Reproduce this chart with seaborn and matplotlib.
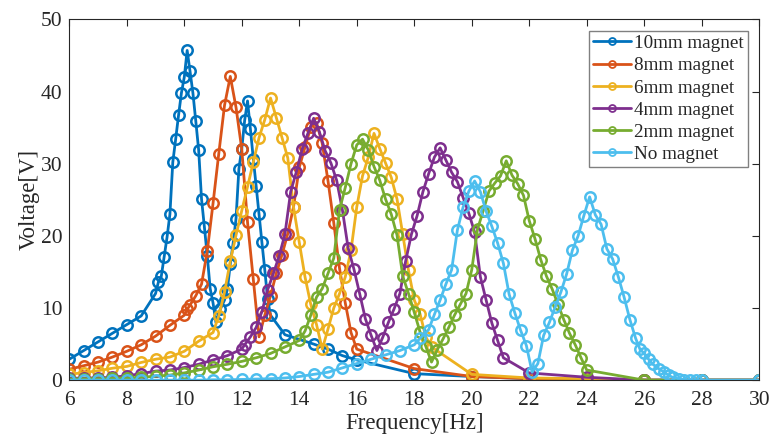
import numpy as np
import pandas as pd
import matplotlib
matplotlib.use("Agg")
import matplotlib.pyplot as plt
import seaborn as sns

# frequency / voltage readings for each magnet size

f_10mm = [6.0, 6.5, 7.0, 7.5, 8.0, 8.5, 9.0, 9.1, 9.2, 9.3, 9.4, 9.5, 9.6, 9.7, 9.8, 9.9,
          10.0, 10.1, 10.2, 10.3, 10.4, 10.5, 10.6, 10.7, 10.8, 10.9, 11.0, 11.1, 11.25, 11.4,
          11.5, 11.6, 11.7, 11.8, 11.9, 12.0, 12.1, 12.2, 12.3, 12.4, 12.5, 12.6, 12.7, 12.8,
          12.9, 13.0, 13.5, 14.5, 15.0, 15.5, 16.0, 18.0, 20.0, 22.0, 24.0, 26.0, 28.0, 30.0]
v_10mm = [2.9, 4.1, 5.3, 6.5, 7.7, 8.9, 12.0, 13.6, 14.4, 17.1, 19.8, 23.0, 30.2, 33.4, 36.7, 39.8,
          42.0, 45.7, 42.8, 39.8, 35.9, 31.9, 25.1, 21.2, 17.2, 12.7, 10.7, 8.0, 9.8, 11.1,
          12.6, 16.1, 19.0, 22.4, 29.3, 32.1, 36.0, 38.7, 34.8, 30.7, 26.9, 23.0, 19.1, 15.3,
          11.2, 9.0, 6.3, 5.0, 4.3, 3.4, 2.8, 0.9, 0.5, 0.2, 0.0, 0.0, 0.0, 0.0]

f_8mm = [6.0, 6.5, 7.0, 7.5, 8.0, 8.5, 9.0, 9.5, 10.0, 10.1, 10.2, 10.4, 10.6, 10.8, 11.0, 11.2,
         11.4, 11.6, 11.8, 12.0, 12.2, 12.4, 12.6, 12.8, 13.0, 13.2, 13.4, 13.6, 13.8, 14.0,
         14.2, 14.4, 14.6, 14.8, 15.0, 15.2, 15.4, 15.6, 15.8, 16.0, 18.0, 20.0, 22.0, 24.0,
         26.0, 28.0, 30.0]
v_8mm = [1.5, 2.0, 2.5, 3.2, 4.0, 4.9, 6.1, 7.6, 9.0, 9.8, 10.4, 11.7, 13.3, 17.9, 24.5, 31.4,
         38.1, 42.1, 37.8, 32.0, 21.9, 14.0, 6.0, 9.0, 11.7, 14.8, 17.4, 20.3, 24.0, 29.5,
         32.3, 35.1, 35.7, 32.8, 27.6, 21.8, 15.5, 10.7, 6.6, 4.3, 1.6, 0.5, 0.2, 0.1,
         0.0, 0.0, 0.0]

f_6mm = [6.0, 6.5, 7.0, 7.5, 8.0, 8.5, 9.0, 9.5, 10.0, 10.5, 11.0, 11.2, 11.4, 11.6, 11.8, 12.0,
         12.2, 12.4, 12.6, 12.8, 13.0, 13.2, 13.4, 13.6, 13.8, 14.0, 14.2, 14.4, 14.6, 14.8,
         15.0, 15.2, 15.4, 15.6, 15.8, 16.0, 16.2, 16.4, 16.6, 16.8, 17.0, 17.2, 17.4, 17.6,
         17.8, 18.0, 18.2, 18.4, 18.6, 20.0, 22.0, 24.0, 26.0, 28.0, 30.0]
v_6mm = [0.8, 1.05, 1.3, 1.65, 1.9, 2.45, 2.9, 3.2, 4.0, 5.4, 6.6, 8.9, 12.2, 16.5, 20.1, 23.5,
         26.8, 30.2, 33.6, 36.1, 39.1, 36.4, 33.6, 30.8, 24.0, 19.1, 14.3, 10.5, 7.7, 4.3,
         7.1, 10.0, 12.0, 14.3, 18.0, 24.0, 28.3, 30.9, 34.2, 32.1, 30.1, 28.1, 25.1, 20.2,
         15.2, 11.1, 9.2, 6.0, 4.6, 0.8, 0.3, 0.2, 0.0, 0.0, 0.0]

f_4mm = [6.0, 6.5, 7.0, 7.5, 8.0, 8.5, 9.0, 9.5, 10.0, 10.5, 11.0, 11.5, 12.0, 12.1, 12.3, 12.5,
         12.7, 12.9, 13.1, 13.3, 13.5, 13.7, 13.9, 14.1, 14.3, 14.5, 14.7, 14.9, 15.1, 15.3,
         15.5, 15.7, 15.9, 16.1, 16.3, 16.5, 16.7, 16.9, 17.1, 17.3, 17.5, 17.7, 17.9, 18.1,
         18.3, 18.5, 18.7, 18.9, 19.1, 19.3, 19.5, 19.7, 19.9, 20.1, 20.3, 20.5, 20.7, 20.9,
         21.1, 22.0, 24.0, 26.0, 28.0, 30.0]
v_4mm = [0.25, 0.3, 0.3, 0.4, 0.6, 0.9, 1.25, 1.4, 1.75, 2.2, 2.8, 3.4, 4.3, 4.9, 6.0, 7.3,
         9.5, 12.5, 14.8, 17.2, 20.2, 26.1, 28.9, 32.0, 34.2, 36.3, 34.4, 31.8, 30.1, 27.7,
         23.6, 18.3, 15.4, 12.0, 8.5, 6.2, 4.1, 5.9, 8.0, 9.9, 12.0, 16.5, 20.2, 22.8,
         26.1, 28.6, 30.9, 32.2, 30.5, 28.8, 27.5, 25.3, 23.1, 20.5, 14.3, 11.1, 7.9, 5.5,
         3.1, 1.0, 0.4, 0.0, 0.0, 0.0]

f_2mm = [6.0, 6.5, 7.0, 7.5, 8.0, 8.5, 9.0, 9.5, 10.0, 10.5, 11.0, 11.5, 12.0, 12.5, 13.0, 13.5,
         14.0, 14.2, 14.4, 14.6, 14.8, 15.0, 15.2, 15.4, 15.6, 15.8, 16.0, 16.2, 16.4, 16.6,
         16.8, 17.0, 17.2, 17.4, 17.6, 17.8, 18.0, 18.2, 18.4, 18.6, 18.8, 19.0, 19.2, 19.4,
         19.6, 19.8, 20.0, 20.2, 20.4, 20.6, 20.8, 21.0, 21.2, 21.4, 21.6, 21.8, 22.0, 22.2,
         22.4, 22.6, 22.8, 23.0, 23.2, 23.4, 23.6, 23.8, 24.0, 26.0, 28.0, 30.0]
v_2mm = [0.15, 0.2, 0.2, 0.25, 0.3, 0.4, 0.55, 0.7, 1.0, 1.4, 1.85, 2.2, 2.6, 3.1, 3.7, 4.6,
         5.5, 6.8, 9.0, 11.5, 12.7, 14.8, 16.9, 23.6, 26.7, 30.0, 32.6, 33.4, 31.9, 29.6,
         27.7, 25.1, 23.0, 20.1, 14.4, 12.0, 9.4, 6.7, 4.7, 2.5, 4.2, 5.7, 7.3, 9.0,
         10.5, 12.0, 15.3, 20.9, 23.5, 26.2, 27.3, 28.3, 30.4, 28.4, 27.2, 25.6, 22.1, 19.6,
         16.7, 14.4, 12.6, 10.5, 8.4, 6.5, 4.9, 3.1, 1.4, 0.0, 0.0, 0.0]

f_none = [6.0, 6.5, 7.0, 7.5, 8.0, 8.5, 9.0, 9.5, 10.0, 10.5, 11.0, 11.5, 12.0, 12.5, 13.0, 13.5,
          14.0, 14.5, 15.0, 15.5, 16.0, 16.5, 17.0, 17.5, 18.0, 18.2, 18.5, 18.7, 18.9, 19.1,
          19.3, 19.5, 19.7, 19.9, 20.1, 20.3, 20.5, 20.7, 20.9, 21.1, 21.3, 21.5, 21.7, 21.9,
          22.1, 22.3, 22.5, 22.7, 22.9, 23.1, 23.3, 23.5, 23.7, 23.9, 24.1, 24.3, 24.5, 24.7,
          24.9, 25.1, 25.3, 25.5, 25.7, 25.85, 26.0, 26.15, 26.3, 26.5, 26.7, 26.85, 27.0, 27.2,
          27.4, 27.6, 27.8, 28.0, 30.0]
v_none = [0.0, 0.0, 0.0, 0.0, 0.0, 0.0, 0.0, 0.0, 0.0, 0.0, 0.05, 0.05, 0.1, 0.15, 0.2, 0.3,
          0.5, 0.8, 1.1, 1.7, 2.3, 2.9, 3.5, 4.1, 4.9, 5.8, 7.0, 9.1, 11.1, 13.3,
          15.3, 20.8, 24.0, 26.2, 27.6, 26.1, 23.4, 21.3, 19.0, 16.2, 11.9, 9.3, 6.9, 4.8,
          1.1, 2.3, 6.2, 8.0, 10.1, 12.2, 14.7, 18.0, 20.0, 22.8, 25.4, 22.9, 21.6, 18.2,
          16.8, 14.3, 11.5, 8.4, 5.8, 4.3, 3.7, 2.9, 2.2, 1.6, 1.1, 0.65, 0.37, 0.18,
          0.05, 0.0, 0.0, 0.0, 0.0]

labels = ["10mm magnet", "8mm magnet", "6mm magnet", "4mm magnet", "2mm magnet", "No magnet"]
freqs = [f_10mm, f_8mm, f_6mm, f_4mm, f_2mm, f_none]
volts = [v_10mm, v_8mm, v_6mm, v_4mm, v_2mm, v_none]

# matlab default line colours
colors = ["#0072BD", "#D95319", "#EDB120", "#7E2F8E", "#77AC30", "#4DBEEE"]

sns.set_theme(style="white")
plt.rcParams['font.family'] = ['Liberation Serif', 'DejaVu Serif']

fig = plt.figure(figsize=(7.7, 4.41), dpi=100)
ax = fig.add_axes([0.09, 0.138, 0.896, 0.818])

for f, v, lab, c in zip(freqs, volts, labels, colors):
    df = pd.DataFrame({'freq': f, 'volt': v})
    sns.lineplot(data=df, x='freq', y='volt', ax=ax, color=c, label=lab, sort=False,
                 linewidth=2, marker='o', markersize=7.5, markerfacecolor='none',
                 markeredgecolor=c, markeredgewidth=1.8)

ax.set_xlim(6, 30)
ax.set_ylim(0, 50)
ax.set_xticks(np.arange(6, 31, 2))
ax.set_yticks(np.arange(0, 51, 10))
ax.tick_params(direction='in', top=True, right=True, length=5, width=0.8,
               labelsize=15.5, colors='#262626')
ax.tick_params(axis='x', pad=8)
ax.tick_params(axis='y', pad=5)
for s in ax.spines.values():
    s.set_color('#262626')
    s.set_linewidth(0.8)

ax.set_xlabel('Frequency[Hz]', fontsize=16.5, color='#262626', labelpad=2)
ax.set_ylabel('Voltage[V]', fontsize=16.5, color='#262626', labelpad=1)

leg = ax.legend(loc='upper right', fontsize=13.8, frameon=True, fancybox=False,
                edgecolor='#808080', framealpha=1, handlelength=2.0, handletextpad=0.15,
                borderpad=0.2, labelspacing=0.25, borderaxespad=0.6)
leg.get_frame().set_linewidth(1.0)
for h in leg.get_lines():
    h.set_markersize(5)
    h.set_markeredgewidth(1.3)

fig.savefig('out.png', dpi=100)
